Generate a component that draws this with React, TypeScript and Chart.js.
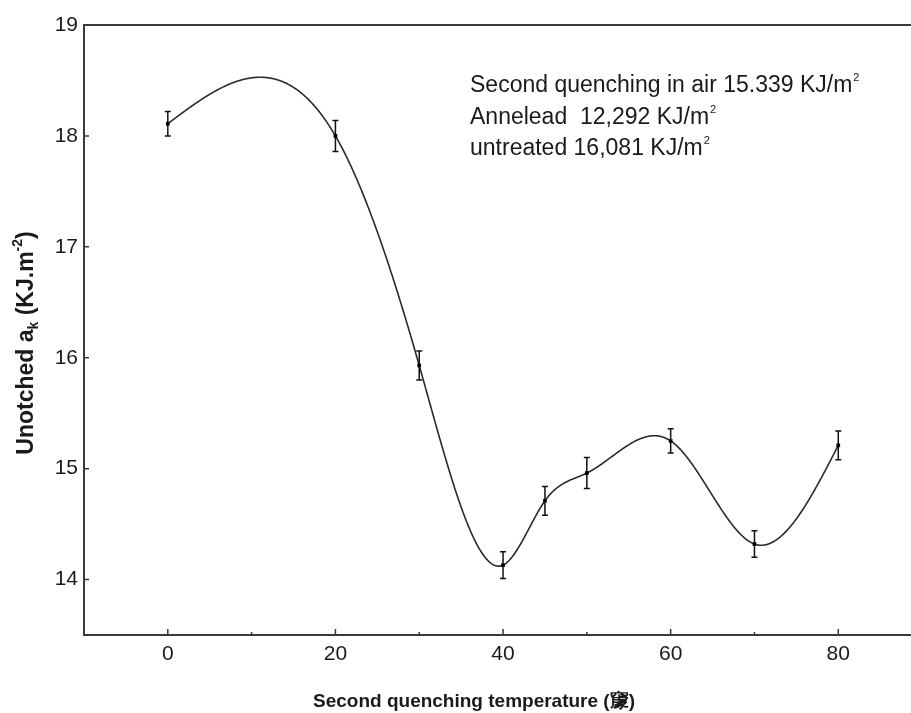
import React, { useEffect, useRef } from 'react';
import { Chart, registerables } from 'chart.js';

Chart.register(...registerables);

// ---- data ----
const temperatures = [0, 20, 30, 40, 45, 50, 60, 70, 80];
const impactValues = [18.11, 18.0, 15.93, 14.13, 14.71, 14.96, 15.25, 14.32, 15.21];
const errorValues = [0.11, 0.14, 0.13, 0.12, 0.13, 0.14, 0.11, 0.12, 0.13];
const xTickValues = [0, 20, 40, 60, 80];
const xMinorTickValues = [10, 30, 50, 70];
const yTickValues = [14, 15, 16, 17, 18, 19];
const noteLines = [
  'Second quenching in air 15.339 KJ/m',
  'Annelead  12,292 KJ/m',
  'untreated 16,081 KJ/m',
];
const noteSuperscript = '2';
const xTitle = 'Second quenching temperature (䆽)';
const yTitleParts = [
  { text: 'Unotched a', kind: 'normal' },
  { text: 'k', kind: 'sub' },
  { text: ' (KJ.m', kind: 'normal' },
  { text: '-2', kind: 'sup' },
  { text: ')', kind: 'normal' },
];

const FONT = '"Liberation Sans", Arial, sans-serif';
const INK = '#1a1a1a';
const AXIS = '#3a3a3a';

// natural cubic spline second derivatives
function splineSecondDerivs(xs: number[], ys: number[]) {
  const n = xs.length;
  const h: number[] = [];
  for (let i = 0; i < n - 1; i++) h.push(xs[i + 1] - xs[i]);
  const M = new Array(n).fill(0);
  const a: number[] = [], b: number[] = [], c: number[] = [], d: number[] = [];
  for (let i = 1; i < n - 1; i++) {
    a.push(h[i - 1]);
    b.push(2 * (h[i - 1] + h[i]));
    c.push(h[i]);
    d.push(6 * ((ys[i + 1] - ys[i]) / h[i] - (ys[i] - ys[i - 1]) / h[i - 1]));
  }
  const m = b.length;
  for (let i = 1; i < m; i++) {
    const w = a[i] / b[i - 1];
    b[i] -= w * c[i - 1];
    d[i] -= w * d[i - 1];
  }
  const sol = new Array(m).fill(0);
  sol[m - 1] = d[m - 1] / b[m - 1];
  for (let i = m - 2; i >= 0; i--) sol[i] = (d[i] - c[i] * sol[i + 1]) / b[i];
  for (let i = 0; i < m; i++) M[i + 1] = sol[i];
  return M;
}

function splineAt(xs: number[], ys: number[], M: number[], x: number) {
  let i = 0;
  while (i < xs.length - 2 && x > xs[i + 1]) i++;
  const h = xs[i + 1] - xs[i];
  const A = xs[i + 1] - x;
  const B = x - xs[i];
  return (
    (M[i] * A * A * A) / (6 * h) +
    (M[i + 1] * B * B * B) / (6 * h) +
    (ys[i] / h - (M[i] * h) / 6) * A +
    (ys[i + 1] / h - (M[i + 1] * h) / 6) * B
  );
}

const decorPlugin = {
  id: 'decor',
  beforeDatasetsDraw(chart: any) {
    const ctx = chart.ctx;
    const xs = chart.scales.x;
    const ys = chart.scales.y;
    const M = splineSecondDerivs(temperatures, impactValues);
    const p0 = xs.getPixelForValue(temperatures[0]);
    const p1 = xs.getPixelForValue(temperatures[temperatures.length - 1]);
    ctx.save();
    ctx.beginPath();
    for (let px = p0; px <= p1 + 0.01; px += 0.5) {
      const xv = xs.getValueForPixel(px);
      const yv = splineAt(temperatures, impactValues, M, xv);
      const py = ys.getPixelForValue(yv);
      if (px === p0) ctx.moveTo(px, py);
      else ctx.lineTo(px, py);
    }
    ctx.strokeStyle = '#2a2a2a';
    ctx.lineWidth = 1.6;
    ctx.stroke();

    // error bars
    ctx.strokeStyle = '#111';
    ctx.lineWidth = 1.5;
    temperatures.forEach((t, i) => {
      const px = xs.getPixelForValue(t);
      const top = ys.getPixelForValue(impactValues[i] + errorValues[i]);
      const bot = ys.getPixelForValue(impactValues[i] - errorValues[i]);
      ctx.beginPath();
      ctx.moveTo(px, top);
      ctx.lineTo(px, bot);
      ctx.moveTo(px - 3, top);
      ctx.lineTo(px + 3, top);
      ctx.moveTo(px - 3, bot);
      ctx.lineTo(px + 3, bot);
      ctx.stroke();
    });
    ctx.restore();
  },
  afterDraw(chart: any) {
    const ctx = chart.ctx;
    const area = chart.chartArea;
    const xs = chart.scales.x;
    const ys = chart.scales.y;
    ctx.save();
    // top frame line
    ctx.strokeStyle = AXIS;
    ctx.lineWidth = 2;
    ctx.beginPath();
    ctx.moveTo(area.left, area.top);
    ctx.lineTo(chart.width, area.top);
    ctx.moveTo(area.right, area.bottom);
    ctx.lineTo(chart.width, area.bottom);
    ctx.stroke();
    // inward ticks
    ctx.lineWidth = 1.5;
    ctx.beginPath();
    yTickValues.forEach((v) => {
      const py = ys.getPixelForValue(v);
      ctx.moveTo(area.left, py);
      ctx.lineTo(area.left + 5, py);
    });
    xTickValues.forEach((v) => {
      const px = xs.getPixelForValue(v);
      ctx.moveTo(px, area.bottom);
      ctx.lineTo(px, area.bottom - 6);
    });
    xMinorTickValues.forEach((v) => {
      const px = xs.getPixelForValue(v);
      ctx.moveTo(px, area.bottom);
      ctx.lineTo(px, area.bottom - 3);
    });
    ctx.stroke();

    // annotation text
    ctx.fillStyle = INK;
    ctx.textBaseline = 'alphabetic';
    ctx.textAlign = 'left';
    const noteX = 470;
    const noteY0 = 92;
    const noteGap = 31.5;
    noteLines.forEach((line, i) => {
      const y = noteY0 + i * noteGap;
      ctx.font = `23px ${FONT}`;
      ctx.fillText(line, noteX, y);
      const w = ctx.measureText(line).width;
      ctx.font = `11px ${FONT}`;
      ctx.fillText(noteSuperscript, noteX + w + 1, y - 11);
    });

    // x-axis title
    ctx.font = `bold 19px ${FONT}`;
    ctx.textAlign = 'center';
    ctx.textBaseline = 'middle';
    ctx.fillText(xTitle, 474, 702);

    // y-axis title with sub/superscripts
    ctx.textAlign = 'left';
    ctx.textBaseline = 'alphabetic';
    const big = `bold 23px ${FONT}`;
    const small = `bold 14px ${FONT}`;
    let total = 0;
    yTitleParts.forEach((p) => {
      ctx.font = p.kind === 'normal' ? big : small;
      total += ctx.measureText(p.text).width;
    });
    ctx.translate(33, 343);
    ctx.rotate(-Math.PI / 2);
    let cx = -total / 2;
    yTitleParts.forEach((p) => {
      ctx.font = p.kind === 'normal' ? big : small;
      const dy = p.kind === 'sub' ? 5 : p.kind === 'sup' ? -11 : 0;
      ctx.fillText(p.text, cx, dy);
      cx += ctx.measureText(p.text).width;
    });
    ctx.restore();
  },
};

export default function App() {
  const canvasRef = useRef<HTMLCanvasElement | null>(null);

  useEffect(() => {
    const canvas = canvasRef.current;
    if (!canvas) return;
    const chart = new Chart(canvas, {
      type: 'scatter',
      data: {
        datasets: [
          {
            data: temperatures.map((x, i) => ({ x, y: impactValues[i] })),
            pointStyle: 'rect',
            pointRadius: 2.6,
            pointBackgroundColor: '#000',
            pointBorderColor: '#000',
            pointBorderWidth: 0,
            showLine: false,
          },
        ],
      },
      options: {
        animation: false,
        responsive: false,
        devicePixelRatio: 1,
        layout: { padding: { top: 25, right: 0, left: 0, bottom: 0 } },
        plugins: {
          legend: { display: false },
          tooltip: { enabled: false },
        },
        scales: {
          x: {
            type: 'linear',
            min: -10,
            max: 88.2,
            afterBuildTicks: (s: any) => {
              s.ticks = xTickValues.map((v) => ({ value: v }));
            },
            afterFit: (s: any) => {
              s.height = 78;
            },
            grid: { display: false, drawTicks: false },
            border: { display: true, color: AXIS, width: 2 },
            ticks: {
              font: { family: FONT, size: 21 },
              color: INK,
              padding: 7,
              maxRotation: 0,
            },
          },
          y: {
            type: 'linear',
            min: 13.5,
            max: 19,
            afterBuildTicks: (s: any) => {
              s.ticks = yTickValues.map((v) => ({ value: v }));
            },
            afterFit: (s: any) => {
              s.width = 84;
            },
            grid: { display: false, drawTicks: false },
            border: { display: true, color: AXIS, width: 2 },
            ticks: {
              font: { family: FONT, size: 21 },
              color: INK,
              padding: 6,
            },
          },
        },
      },
      plugins: [decorPlugin],
    } as any);
    return () => chart.destroy();
  }, []);

  return (
    <div style={{ position: 'absolute', left: 0, top: 0, width: 911, height: 713, background: '#fff' }}>
      <canvas ref={canvasRef} width={911} height={713} />
    </div>
  );
}
